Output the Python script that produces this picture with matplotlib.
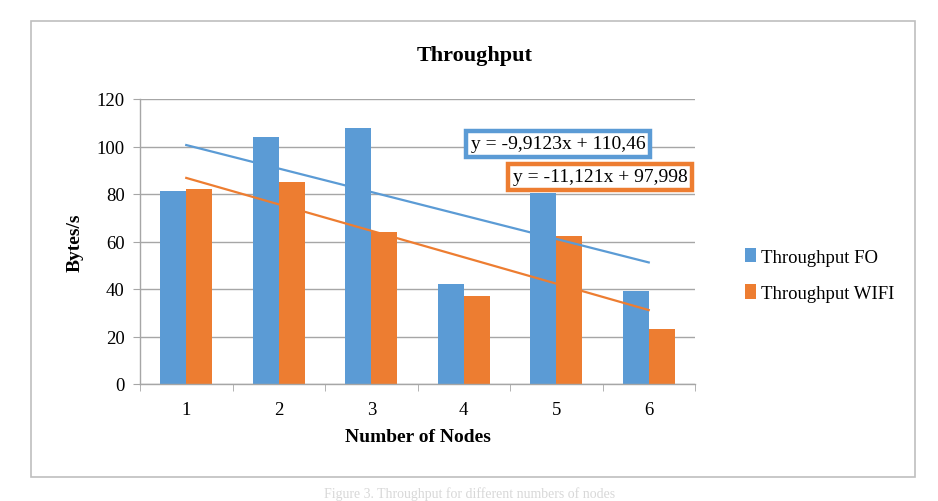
import numpy as np
import matplotlib
matplotlib.use("Agg")
import matplotlib.pyplot as plt
from matplotlib.patches import Rectangle

nodes = [1, 2, 3, 4, 5, 6]
throughput_fo = [81.3, 104.0, 108.0, 42.2, 80.6, 39.3]
throughput_wifi = [82.2, 85.0, 63.8, 37.2, 62.2, 23.3]
yticks = [0, 20, 40, 60, 80, 100, 120]
eq_fo = "y = -9,9123x + 110,46"
eq_wifi = "y = -11,121x + 97,998"

BLUE = "#5B9BD5"
ORANGE = "#ED7D31"
GRID = "#A6A6A6"
plt.rcParams['font.family'] = ['Liberation Serif', 'DejaVu Serif']

W, H = 938, 502
fig = plt.figure(figsize=(W / 100, H / 100), dpi=100)

# outer chart border
fig.patches.append(Rectangle((31 / W, 1 - 478 / H), (915 - 31) / W, (478 - 22) / H,
                             transform=fig.transFigure, fill=False,
                             edgecolor="#BFBFBF", linewidth=1.2))

# plot area: y=0 at 385px, y=120 at 100px
ax = fig.add_axes([140 / W, (H - 385) / H, 555 / W, 285 / H])
x = np.array(nodes, dtype=float)
bw = 0.28
ax.bar(x - bw / 2, throughput_fo, bw, color=BLUE, label="Throughput FO", zorder=2)
ax.bar(x + bw / 2, throughput_wifi, bw, color=ORANGE, label="Throughput WIFI", zorder=2)

# linear trendlines
for vals, col in [(throughput_fo, BLUE), (throughput_wifi, ORANGE)]:
    m, b = np.polyfit(x, vals, 1)
    ax.plot([x[0], x[-1]], [m * x[0] + b, m * x[-1] + b], color=col, lw=1.6, zorder=3)

ax.set_xlim(0.5, 6.5)
ax.set_ylim(0, 120)
ax.set_yticks(yticks)
ax.set_yticklabels([str(v) for v in yticks], fontsize=13.5)
ax.set_xticks(x)
ax.set_xticklabels([str(n) for n in nodes], fontsize=13.5)
ax.set_xticks(np.arange(0.5, 6.6, 1.0), minor=True)
ax.tick_params(axis='x', which='major', length=0, pad=12)
ax.tick_params(axis='x', which='minor', length=5, color=GRID, direction='out')
ax.tick_params(axis='y', length=5, color=GRID, direction='out', pad=6)
ax.yaxis.grid(True, color=GRID, lw=1.0, zorder=0)
ax.set_axisbelow(True)
for s in ['top', 'right']:
    ax.spines[s].set_visible(False)
for s in ['left', 'bottom']:
    ax.spines[s].set_color(GRID)
    ax.spines[s].set_linewidth(1.0)

ax.set_xlabel("Number of Nodes", fontsize=14, fontweight='bold')
ax.xaxis.set_label_coords(0.5, -(438 - 385) / 285, transform=ax.transAxes)
ax.xaxis.label.set_va('center')
ax.set_ylabel("Bytes/s", fontsize=14, fontweight='bold')
ax.yaxis.set_label_coords(-(140 - 75) / 555, 0.5, transform=ax.transAxes)
ax.yaxis.label.set_va('center')

fig.text(475 / W, 1 - 56 / H, "Throughput", fontsize=16, fontweight='bold',
         ha='center', va='center')

# equation boxes
fig.text(558 / W, 1 - 145 / H, eq_fo, fontsize=14, ha='center', va='center',
         bbox=dict(boxstyle='square,pad=0.25', facecolor='white', edgecolor=BLUE, linewidth=3.2),
         zorder=5)
fig.text(600 / W, 1 - 178 / H, eq_wifi, fontsize=14, ha='center', va='center',
         bbox=dict(boxstyle='square,pad=0.25', facecolor='white', edgecolor=ORANGE, linewidth=3.2),
         zorder=5)

leg = fig.legend(loc='center left', bbox_to_anchor=(728 / W, 1 - 276 / H), frameon=False,
                 fontsize=13.5, handlelength=0.6, handleheight=0.8, handletextpad=0.25,
                 labelspacing=1.0)

fig.text(470 / W, 1 / H, "Figure 3. Throughput for different numbers of nodes",
         fontsize=10, color="#D8D8D8", ha='center', va='bottom')

fig.savefig("out.png", dpi=100)
